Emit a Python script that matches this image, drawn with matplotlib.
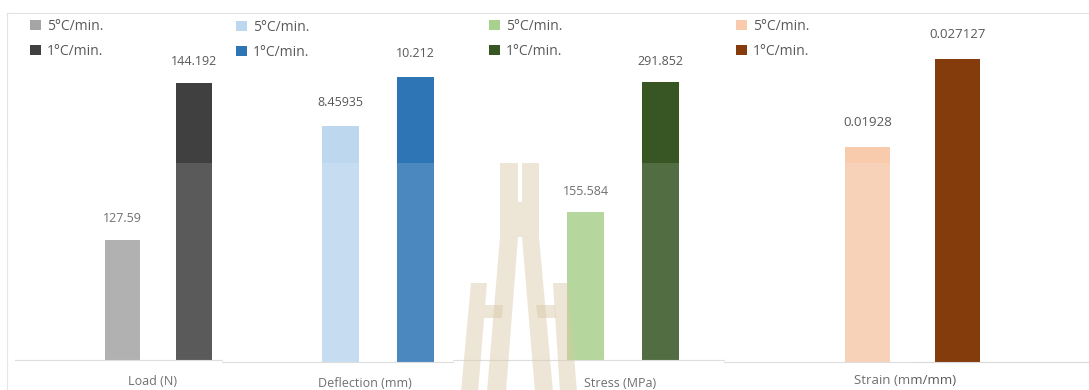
import matplotlib
matplotlib.use("Agg")
import matplotlib.pyplot as plt
from matplotlib.patches import Polygon, Rectangle
from matplotlib.lines import Line2D

plt.rcParams['font.family'] = ['Open Sans', 'DejaVu Sans']

# data
series = ['5°C/min.', '1°C/min.']
categories = ['Load (N)', 'Deflection (mm)', 'Stress (MPa)', 'Strain (mm/mm)']
load = [127.59, 144.192]
deflection = [8.45935, 10.212]
stress = [155.584, 291.852]
strain = [0.01928, 0.027127]
values = [load, deflection, stress, strain]
labels = [['127.59', '144.192'], ['8.45935', '10.212'],
          ['155.584', '291.852'], ['0.01928', '0.027127']]

colors = [['#a5a5a5', '#404040'], ['#bdd7ee', '#2e75b6'],
          ['#a9d18e', '#375623'], ['#f8cbad', '#843c0c']]

W, H = 1089, 390
fig = plt.figure(figsize=(W / 100, H / 100), dpi=100)


def fx(px):
    return px / W


def fy(py):
    return 1 - py / H


# panel layout in pixels: left, right, baseline, bar centres, bar width,
# y-axis min and px-per-unit, label pad, tick label x, legend corner
panels = [
    dict(l=15, r=222, base=360, c=(122.5, 194), bw=35.5, ymin=114.9, sc=9.457,
         pad=11, fs=9, tick_x=152, tpad=11, leg=(30, 19)),
    dict(l=222, r=453, base=362, c=(340.5, 415.5), bw=37, ymin=0, sc=27.91,
         pad=12, fs=9, tick_x=365, tpad=11, leg=(236, 20)),
    dict(l=453, r=724, base=360, c=(585.5, 660.5), bw=37, ymin=0, sc=0.9525,
         pad=10, fs=9, tick_x=620, tpad=12, leg=(489, 19)),
    dict(l=724, r=1089, base=362, c=(867.5, 957.5), bw=45, ymin=0, sc=11170,
         pad=13, fs=9.5, tick_x=905, tpad=9, leg=(736, 19)),
]

top = 13
for i, p in enumerate(panels):
    ax = fig.add_axes([fx(p['l']), fy(p['base']), fx(p['r']) - fx(p['l']),
                       (p['base'] - top) / H])
    unit = p['c'][1] - p['c'][0]
    ax.set_xlim((p['l'] - p['c'][0]) / unit, (p['r'] - p['c'][0]) / unit)
    ax.set_ylim(p['ymin'], p['ymin'] + (p['base'] - top) / p['sc'])
    for j in range(2):
        bars = ax.bar(j, values[i][j], width=p['bw'] / unit,
                      color=colors[i][j], label=series[j])
        ax.bar_label(bars, labels=[labels[i][j]], padding=p['pad'],
                     fontsize=p['fs'], color='#595959')
    for s in ['top', 'left', 'right']:
        ax.spines[s].set_visible(False)
    ax.spines['bottom'].set_color('#d9d9d9')
    ax.spines['bottom'].set_linewidth(0.8)
    ax.set_yticks([])
    ax.set_xticks([(p['tick_x'] - p['c'][0]) / unit])
    ax.set_xticklabels([categories[i]], fontsize=p['fs'], color='#595959')
    ax.tick_params(axis='x', length=0, pad=p['tpad'])
    ax.patch.set_alpha(0)
    ax.legend(loc='upper left', bbox_to_anchor=(fx(p['leg'][0]), fy(p['leg'][1])),
              bbox_transform=fig.transFigure, frameon=False, fontsize=10,
              labelcolor='#595959', handlelength=0.8, handleheight=0.8,
              handletextpad=0.4, labelspacing=0.7, borderpad=0, borderaxespad=0)

# light frame lines of the screenshot
fig.add_artist(Line2D([fx(7), fx(1089)], [fy(top), fy(top)], color='#e3e3e3', lw=0.8))
fig.add_artist(Line2D([fx(7), fx(7)], [fy(top), 0], color='#e3e3e3', lw=0.8))

# faint white wash over the lower part
fig.add_artist(Rectangle((0, 0), fx(912), fy(163), transform=fig.transFigure,
                         facecolor='white', edgecolor='none', alpha=0.14, zorder=5))

# watermark logo
wm = dict(facecolor='#d9c6a5', edgecolor='none', alpha=0.45, zorder=6,
          transform=fig.transFigure)
shapes = [
    # central H top with crossbar
    [(500, 163), (518, 163), (518, 202), (522, 202), (522, 163), (539, 163),
     (539, 237), (500, 237)],
    # central legs
    [(500, 237), (518, 237), (506, 392), (487, 392)],
    [(522, 237), (539, 237), (553, 392), (535, 392)],
    # outer columns
    [(471, 283), (487, 283), (478, 392), (461, 392)],
    [(553, 283), (568, 283), (577, 392), (560, 392)],
    # crossbars
    [(485, 305), (503, 305), (502, 318), (484, 318)],
    [(536, 305), (555, 305), (556, 318), (538, 318)],
]
for pts in shapes:
    fig.add_artist(Polygon([(fx(x), fy(y)) for x, y in pts], closed=True, **wm))

fig.savefig('out.png', dpi=100)
